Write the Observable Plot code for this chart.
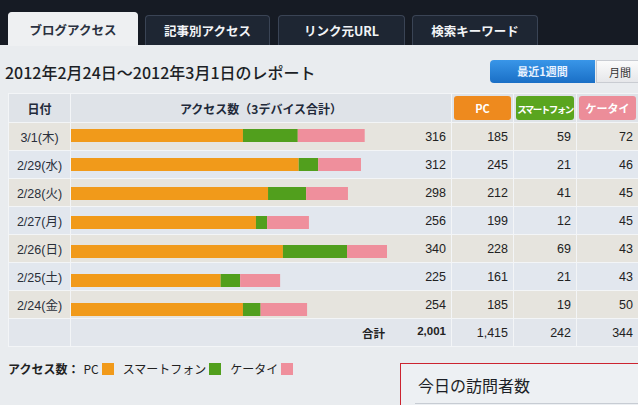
<!DOCTYPE html>
<html><head><meta charset="utf-8">
<script src="https://cdn.jsdelivr.net/npm/d3@7"></script>
<script src="https://cdn.jsdelivr.net/npm/@observablehq/plot@0.6"></script>
<style>
html,body{margin:0;padding:0;background:#e9ecef;}
#page{position:relative;width:638px;height:405px;overflow:hidden;font-family:"Noto Sans CJK JP","Noto Sans",sans-serif;color:#222;background:#e9ecef;}
.abs{position:absolute;}
#topbar{left:0;top:0;width:638px;height:45px;background:#161b24;}
.tab{position:absolute;top:15px;height:30px;line-height:30px;text-align:center;font-size:12.5px;font-weight:bold;color:#f2f4f7;background:#1e2633;border:1px solid #3a4455;border-bottom:none;border-radius:4px 4px 0 0;box-sizing:border-box;}
.tab.active{top:12px;height:34px;line-height:34px;background:#eef0f2;color:#2a3140;border-color:#eef0f2;}
#title{left:5px;top:60px;font-size:16px;font-weight:500;color:#1c1f26;white-space:nowrap;}
#btn1{left:490px;top:60px;width:105px;height:23px;line-height:23px;text-align:center;font-size:11px;font-weight:bold;color:#e8f2ff;background:linear-gradient(#3996e8,#1a6fc6);border-radius:4px 0 0 4px;}
#btn2{left:596px;top:60px;width:60px;height:23px;line-height:23px;padding-left:12px;box-sizing:border-box;font-size:11px;color:#333;background:linear-gradient(#fbfbfb,#e6e7ea);border:1px solid #c9ccd2;}
table{position:absolute;left:8px;top:93px;border-collapse:collapse;table-layout:fixed;width:630px;font-size:12.5px;font-family:"Liberation Sans","Noto Sans CJK JP",sans-serif;}
td,th{border:1px solid #f3f5f7;padding:0;height:28px;box-sizing:border-box;}
th{height:28px;font-weight:bold;color:#222a3a;background:#dfe3e8;font-family:"Noto Sans CJK JP",sans-serif;font-size:12px;}
tr.odd td{background:#e6e4de;}
tr.even td{background:#e2e7ee;}
tr.tot td{background:#e2e6ec;}
.num{text-align:right;padding-right:5px;}
.chip{display:block;margin:2px;height:24px;line-height:24px;border-radius:3px;color:#fff;font-size:11px;font-weight:bold;text-align:center;white-space:nowrap;}
.chip span{display:inline-block;}
#legend{left:8px;top:360px;font-size:12px;color:#222;white-space:nowrap;display:flex;align-items:center;}
.sw{display:inline-block;width:12px;height:12px;margin:0 9px 0 3px;}
#redbox{left:400px;top:363px;width:260px;height:60px;border:1px solid #cc2430;background:#edf0f3;}
#redtitle{left:418px;top:373px;font-size:16px;color:#1c1f26;}
#redline{left:415px;top:403px;width:240px;height:1px;background:#c7ccd3;}
#plot{left:70px;top:121px;}
</style></head>
<body><div id="page">
<div id="topbar" class="abs">
  <div class="tab active" style="left:8px;width:130px;">ブログアクセス</div>
  <div class="tab" style="left:145px;width:125px;">記事別アクセス</div>
  <div class="tab" style="left:278px;width:127px;">リンク元URL</div>
  <div class="tab" style="left:412px;width:126px;">検索キーワード</div>
</div>
<div id="title" class="abs">2012年2月24日〜2012年3月1日のレポート</div>
<div id="btn1" class="abs">最近1週間</div>
<div id="btn2" class="abs">月間</div>
<table id="tbl"></table>
<div id="plot" class="abs"></div>
<div id="legend" class="abs"></div>
<div id="redbox" class="abs"></div>
<div id="redtitle" class="abs">今日の訪問者数</div>
<div id="redline" class="abs"></div>
</div>
<script>
const dates = ["3/1(木)","2/29(水)","2/28(火)","2/27(月)","2/26(日)","2/25(土)","2/24(金)"];
const pc = [185,245,212,199,228,161,185];
const smartphone = [59,21,41,12,69,21,19];
const keitai = [72,46,45,45,43,43,50];
const devices = ["PC","スマートフォン","ケータイ"];
const deviceColors = ["#f19a1a","#519f1d","#ef8f9c"];
const chipColors = ["#ee8a1e","#5aa51f","#ec8d99"];
const headerDate = "日付";
const headerAccess = "アクセス数（3デバイス合計）";
const totalLabel = "合計";
const legendLabel = "アクセス数：";
const series = [pc, smartphone, keitai];

const fmt = d3.format(",");
const totals = dates.map((d,i)=>pc[i]+smartphone[i]+keitai[i]);

const tbl = document.getElementById("tbl");
let html = `<colgroup><col style="width:62px"><col style="width:381px"><col style="width:62px"><col style="width:63px"><col style="width:62px"></colgroup>`;
html += `<tr><th>${headerDate}</th><th style="text-align:center;padding-right:0">${headerAccess}</th>` +
  devices.map((d,k)=>`<th><span class="chip" style="background:${chipColors[k]}"><span style="${d.length>4?"font-size:9.5px;letter-spacing:-1.5px;":""}">${d}</span></span></th>`).join("") + `</tr>`;
dates.forEach((d,i)=>{
  html += `<tr class="${i%2===0?"odd":"even"}"><td style="text-align:center;color:#2a2f3a">${d}</td><td class="num">${totals[i]}</td>` +
    series.map(s=>`<td class="num">${s[i]}</td>`).join("") + `</tr>`;
});
html += `<tr class="tot"><td></td><td class="num" style="font-weight:bold;font-size:11.5px"><span style="float:right;width:55px">${fmt(d3.sum(totals))}</span><span style="float:right;margin-right:6px;font-family:'Noto Sans CJK JP'">${totalLabel}</span></td>` +
  series.map(s=>`<td class="num">${fmt(d3.sum(s))}</td>`).join("") + `</tr>`;
tbl.innerHTML = html;

const long = [];
dates.forEach((d,i)=>series.forEach((s,k)=>long.push({date:d, device:devices[k], value:s[i]})));

const chart = Plot.plot({
  width: 320, height: 203,
  marginLeft: 1, marginRight: 3, marginTop: 0, marginBottom: 0,
  style: {background: "transparent"},
  x: {domain: [0, 340], axis: null},
  y: {domain: dates, axis: null, paddingInner: 0.55, paddingOuter: 0.275},
  color: {domain: devices, range: deviceColors},
  marks: [
    Plot.barX(long, Plot.stackX({x: "value", y: "date", fill: "device", order: devices}))
  ]
});
document.getElementById("plot").appendChild(chart);

const lg = document.getElementById("legend");
lg.innerHTML = `<b style="margin-right:4px">${legendLabel}</b>` +
  devices.map((d,k)=>`<span>${d}</span><span class="sw" style="background:${deviceColors[k]}"></span>`).join("");
</script>
</body></html>
